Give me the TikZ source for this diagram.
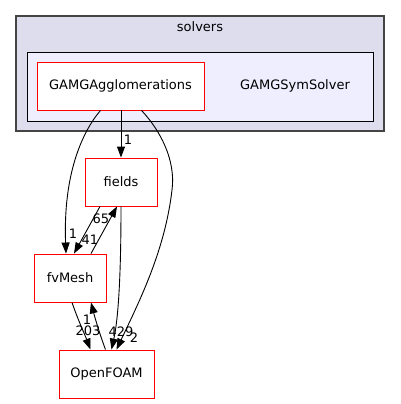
\documentclass[tikz,border=0pt]{standalone}
\usepackage{fontspec}
\setmainfont{DejaVu Sans}
\usetikzlibrary{arrows.meta}
\definecolor{clusterout}{HTML}{DDDDEE}
\definecolor{clusterin}{HTML}{EEEEFF}
\definecolor{bordergray}{HTML}{444444}
\tikzset{
    dirbox/.style={draw=red, fill=white, line width=0.9pt, minimum height=48pt, inner sep=0pt, font=\fontsize{13}{15}\selectfont},
    dep/.style={-{Triangle[length=11pt,width=8pt]}, line width=0.9pt},
    deplabel/.style={font=\fontsize{13}{15}\selectfont, inner sep=0pt}
}
\begin{document}
\begin{tikzpicture}[x=1pt,y=-1pt]
    \useasboundingbox (0,0) rectangle (400,404);
    % Clusters
    \draw[bordergray, fill=clusterout, line width=1.2pt] (16,16) rectangle (384,131);
    \node[font=\fontsize{13}{15}\selectfont] (solvers) at (200,27) {solvers};
    \draw[fill=clusterin, line width=0.9pt] (27,52) rectangle (373,121);
    \node[font=\fontsize{13}{15}\selectfont] (symsolver) at (295,86) {GAMGSymSolver};

    % Directories
    \node[dirbox, minimum width=167pt] (gagg) at (120.5,86) {GAMGAgglomerations};
    \node[dirbox, minimum width=72pt] (fields) at (121,182) {fields};
    \node[dirbox, minimum width=72pt] (fvmesh) at (70,278) {fvMesh};
    \node[dirbox, minimum width=95pt] (openfoam) at (106.5,374) {OpenFOAM};

    % Dependencies
    \draw[dep] (gagg.south -| fields.north) -- (fields.north);
    \node[deplabel] (l1) at (128,140) {1};

    \draw[dep] ([xshift=-20pt]gagg.south) .. controls (82,132) and (63,175) .. ([xshift=-4pt]fvmesh.north);
    \node[deplabel] (l2) at (73,234) {1};

    \draw[dep] ([xshift=21pt]gagg.south) .. controls (160,130) and (176,160) .. (172,190)
        .. controls (165,250) and (140,300) .. ([xshift=10pt]openfoam.north);
    \node[deplabel] (l3) at (134,338) {2};

    \draw[dep] ([xshift=-21pt]fields.south) -- ([xshift=4pt]fvmesh.north);
    \node[deplabel] (l4) at (90,240) {41};

    \draw[dep] ([xshift=21pt]fvmesh.north) -- ([xshift=-4pt]fields.south);
    \node[deplabel] (l5) at (101,219) {65};

    \draw[dep] (fields.south) .. controls (121,280) and (118,320) .. ([xshift=5pt]openfoam.north);
    \node[deplabel] (l6) at (121,332) {429};

    \draw[dep] ([xshift=2pt]fvmesh.south) .. controls (78,320) and (85,335) .. ([xshift=-16pt]openfoam.north);
    \node[deplabel] (l7) at (88,331) {203};

    \draw[dep] ([xshift=-1pt]openfoam.north) .. controls (100,335) and (95,318) .. ([xshift=21pt]fvmesh.south);
    \node[deplabel] (l8) at (87,320) {1};
\end{tikzpicture}
\end{document}
